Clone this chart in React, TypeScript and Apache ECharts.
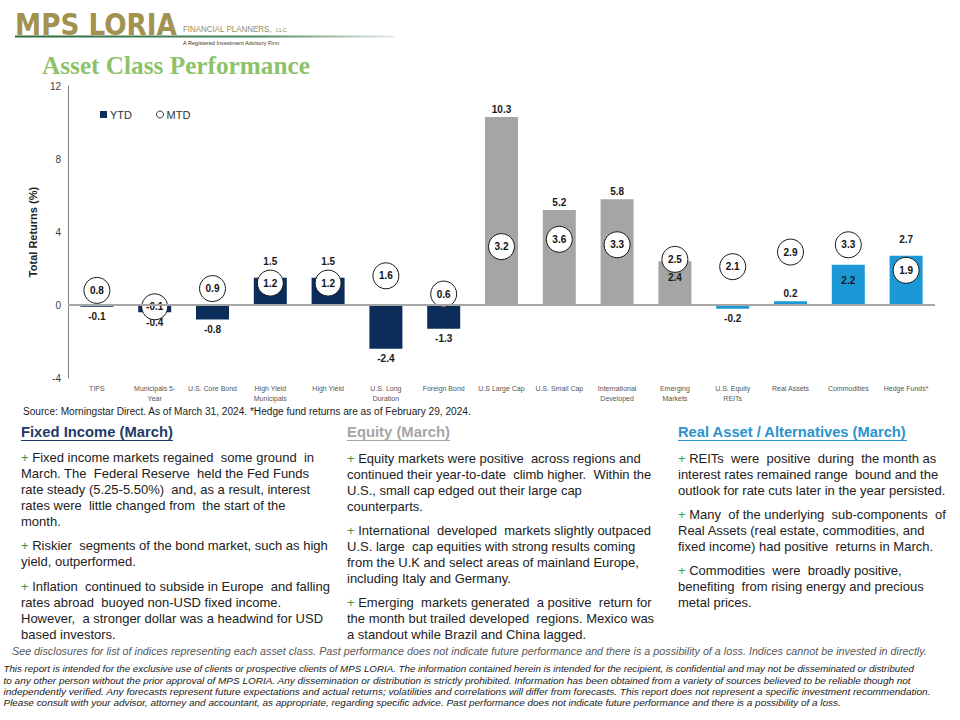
import React, { useEffect, useRef } from "react";
import * as echarts from "echarts";

// ---------- data ----------
const categories = [
  "TIPS",
  "Municipals 5-\nYear",
  "U.S. Core Bond",
  "High Yield\nMunicipals",
  "High Yield",
  "U.S. Long\nDuration",
  "Foreign Bond",
  "U.S Large Cap",
  "U.S. Small Cap",
  "International\nDeveloped",
  "Emerging\nMarkets",
  "U.S. Equity\nREITs",
  "Real Assets",
  "Commodities",
  "Hedge Funds*",
];
const assetGroup = [
  "fixed", "fixed", "fixed", "fixed", "fixed", "fixed", "fixed",
  "equity", "equity", "equity", "equity",
  "real", "real", "real", "real",
];
const ytdValues = [-0.1, -0.4, -0.8, 1.5, 1.5, -2.4, -1.3, 10.3, 5.2, 5.8, 2.4, -0.2, 0.2, 2.2, 2.7];
const mtdValues = [0.8, -0.1, 0.9, 1.2, 1.2, 1.6, 0.6, 3.2, 3.6, 3.3, 2.5, 2.1, 2.9, 3.3, 1.9];
const yMin = -4;
const yMax = 12;
const yInterval = 4;

// ---------- texts ----------
const sourceText =
  "Source: Morningstar Direct. As of March 31, 2024. *Hedge fund returns are as of February 29, 2024.";
const fixedHeading = "Fixed Income (March)";
const equityHeading = "Equity (March)";
const realHeading = "Real Asset / Alternatives (March)";
const fixedParas = [
  [
    "Fixed income markets regained  some ground  in",
    "March. The  Federal Reserve  held the Fed Funds",
    "rate steady (5.25-5.50%)  and, as a result, interest",
    "rates were  little changed from  the start of the",
    "month.",
  ],
  ["Riskier  segments of the bond market, such as high", "yield, outperformed."],
  [
    "Inflation  continued to subside in Europe  and falling",
    "rates abroad  buoyed non-USD fixed income.",
    "However,  a stronger dollar was a headwind for USD",
    "based investors.",
  ],
];
const equityParas = [
  [
    "Equity markets were positive  across regions and",
    "continued their year-to-date  climb higher.  Within the",
    "U.S., small cap edged out their large cap",
    "counterparts.",
  ],
  [
    "International  developed  markets slightly outpaced",
    "U.S. large  cap equities with strong results coming",
    "from the U.K and select areas of mainland Europe,",
    "including Italy and Germany.",
  ],
  [
    "Emerging  markets generated  a positive  return for",
    "the month but trailed developed  regions. Mexico was",
    "a standout while Brazil and China lagged.",
  ],
];
const realParas = [
  [
    "REITs  were  positive  during  the month as",
    "interest rates remained range  bound and the",
    "outlook for rate cuts later in the year persisted.",
  ],
  [
    "Many  of the underlying  sub-components  of",
    "Real Assets (real estate, commodities, and",
    "fixed income) had positive  returns in March.",
  ],
  [
    "Commodities  were  broadly positive,",
    "benefiting  from rising energy and precious",
    "metal prices.",
  ],
];
const seeDisclosures =
  "See disclosures for list of indices representing each asset class. Past performance does not indicate future performance and there is a possibility of a loss. Indices cannot be invested in directly.";
const disclaimerLines = [
  "This report is intended for the exclusive use of clients or prospective clients of MPS LORIA. The information contained herein is intended for the recipient, is confidential and may not be disseminated or distributed",
  "to any other person without the prior approval of MPS LORIA. Any dissemination or distribution is strictly prohibited. Information has been obtained from a variety of sources believed to be reliable though not",
  "independently verified. Any forecasts represent future expectations and actual returns; volatilities and correlations will differ from forecasts. This report does not represent a specific investment recommendation.",
  "Please consult with your advisor, attorney and accountant, as appropriate, regarding specific advice. Past performance does not indicate future performance and there is a possibility of a loss.",
];
// visible prefix of each footer line that ends at x=480 in the reference
const footerPrefixes = [
  "See disclosures for list of indices representing each asset class. Past performance does not indica",
  "This report is intended for the exclusive use of clients or prospective clients of MPS LORIA. The information co",
  "to any other person without the prior approval of MPS LORIA. Any dissemination or distribution is strictly pro",
  "independently verified. Any forecasts represent future expectations and actual returns; volatilities and correl",
  "Please consult with your advisor, attorney and accountant, as appropriate, regarding specific advice. Past pe",
];

const COLORS: Record<string, string> = {
  fixed: "#0c2c5a",
  equity: "#a5a5a5",
  real: "#1b98d5",
};
const SANS = '"Liberation Sans", Arial, sans-serif';

export default function App() {
  const ref = useRef<HTMLDivElement>(null);

  useEffect(() => {
    if (!ref.current) return;
    const chart = echarts.init(ref.current, undefined, { renderer: "svg" });

    const ctx = document.createElement("canvas").getContext("2d")!;
    const mw = (text: string, font: string) => {
      ctx.font = font;
      return ctx.measureText(text).width;
    };
    const T = (text: string, x: number, y: number, font: string, fill: string, scaleX = 1) => ({
      type: "text",
      x,
      y,
      scaleX,
      silent: true,
      style: { text, font, fill, align: "left", verticalAlign: "middle" },
    });
    const fitted = (text: string, x: number, y: number, font: string, fill: string, endX: number) => {
      const w = mw(text, font);
      return T(text, x, y, font, fill, (endX - x) / w);
    };

    const graphics: any[] = [];

    // logo
    const logoFont = `bold 30px "DejaVu Sans", sans-serif`;
    graphics.push(fitted("MPS LORIA", 15, 24.5, logoFont, "#a39150", 177));
    graphics.push({
      type: "rect",
      silent: true,
      shape: { x: 15, y: 35.5, width: 380, height: 2 },
      style: {
        fill: new echarts.graphic.LinearGradient(0, 0, 1, 0, [
          { offset: 0, color: "#2d6a3e" },
          { offset: 0.65, color: "#4f8a5e" },
          { offset: 1, color: "#e8ece8" },
        ]),
      },
    });
    graphics.push(fitted("FINANCIAL PLANNERS,", 183, 29, `9px ${SANS}`, "#9a8b5e", 272));
    graphics.push(fitted("LLC", 276, 30, `6px ${SANS}`, "#9a8b5e", 287));
    graphics.push(fitted("A Registered Investment Advisory Firm", 183, 42.5, `6px ${SANS}`, "#333333", 280));

    // title
    graphics.push(
      fitted("Asset Class Performance", 42, 66, `bold 25px "Liberation Serif", "Times New Roman", serif`, "#8dc26a", 310)
    );

    // source
    graphics.push(fitted(sourceText, 23, 412, `10px ${SANS}`, "#222222", 472));

    // headings
    const headFont = `bold 14.5px ${SANS}`;
    const headings: [string, number, number, string][] = [
      [fixedHeading, 21, 173, "#1f3a68"],
      [equityHeading, 347, 450, "#a6a6a6"],
      [realHeading, 678, 907, "#2a93cf"],
    ];
    headings.forEach(([t, x, end, c]) => {
      graphics.push(fitted(t, x, 432, headFont, c, end));
      graphics.push({
        type: "rect",
        silent: true,
        shape: { x, y: 440, width: end - x, height: 1 },
        style: { fill: c },
      });
    });

    // paragraphs
    const bodyFont = `13px ${SANS}`;
    const plusW = mw("+ ", bodyFont);
    const addParas = (paras: string[][], x: number, y0: number, gap: number) => {
      let y = y0;
      paras.forEach((lines) => {
        lines.forEach((line, li) => {
          if (li === 0) {
            graphics.push(T("+", x, y, bodyFont, "#3a9a4a"));
            graphics.push(T(line, x + plusW, y, bodyFont, "#222222"));
          } else {
            graphics.push(T(line, x, y, bodyFont, "#222222"));
          }
          y += 16;
        });
        y += gap - 16;
      });
    };
    addParas(fixedParas, 21, 457, 24.5);
    addParas(equityParas, 347, 458, 24);
    addParas(realParas, 678, 458, 24);

    // footer
    const seeFont = `italic 10px ${SANS}`;
    const discFont = `italic 9.5px ${SANS}`;
    const seeScale = (480 - 12) / mw(footerPrefixes[0], seeFont);
    graphics.push(T(seeDisclosures, 12, 652, seeFont, "#595959", seeScale));
    const discY = [669, 680.5, 691.5, 702.5];
    disclaimerLines.forEach((line, i) => {
      const s = (480 - 3.5) / mw(footerPrefixes[i + 1], discFont);
      graphics.push(T(line, 3.5, discY[i], discFont, "#1a1a1a", s));
    });

    // ---------- chart ----------
    const barData = ytdValues.map((v, i) => {
      const m = mtdValues[i];
      let position = "top";
      let distance = 3;
      if (v < 0) {
        position = "bottom";
        distance = 5;
      } else if (m >= v && m - v < 1.5) {
        position = "insideTop";
        distance = 11;
      } else if (m < v && v - m < 1.5) {
        position = "top";
        distance = 11;
      }
      return {
        value: v,
        itemStyle: { color: COLORS[assetGroup[i]] },
        label: { position, distance },
      };
    });

    chart.setOption({
      animation: false,
      backgroundColor: "#ffffff",
      textStyle: { fontFamily: SANS },
      grid: { left: 68, right: 25, top: 86, bottom: 342, containLabel: false },
      legend: {
        left: 100,
        top: 109,
        itemWidth: 7,
        itemHeight: 7,
        itemGap: 24,
        padding: 0,
        textStyle: { fontSize: 11, color: "#333333", padding: [0, 0, 0, -2] },
        data: [
          { name: "YTD", icon: "rect" },
          {
            name: "MTD",
            icon: "circle",
            itemStyle: { color: "#ffffff", borderColor: "#333333", borderWidth: 1 },
          },
        ],
      },
      xAxis: {
        type: "category",
        data: categories,
        position: "bottom",
        axisLine: { show: false },
        axisTick: { show: false },
        axisLabel: {
          interval: 0,
          fontSize: 7,
          color: "#555555",
          lineHeight: 10,
          margin: 5,
        },
      },
      yAxis: {
        type: "value",
        min: yMin,
        max: yMax,
        interval: yInterval,
        name: "Total Returns (%)",
        nameLocation: "middle",
        nameGap: 30,
        nameTextStyle: { fontWeight: "bold", fontSize: 11, color: "#222222" },
        axisLine: { show: true, lineStyle: { color: "#808080", width: 1 } },
        axisTick: { show: false },
        splitLine: { show: false },
        axisLabel: { fontSize: 10, color: "#404040", margin: 7 },
      },
      series: [
        {
          name: "YTD",
          type: "bar",
          barWidth: 33,
          itemStyle: { color: COLORS.fixed },
          label: {
            show: true,
            fontSize: 10,
            fontWeight: "bold",
            color: "#1a1a1a",
            formatter: (p: any) => Number(p.value).toFixed(1),
          },
          data: barData,
          z: 2,
          markLine: {
            silent: true,
            symbol: ["none", "none"],
            label: { show: false },
            lineStyle: { color: "#a6a6a6", width: 2, type: "solid" },
            data: [{ yAxis: 0 }],
          },
        },
        {
          name: "MTD",
          type: "scatter",
          symbol: "circle",
          symbolSize: 26,
          z: 4,
          itemStyle: { color: "#ffffff", borderColor: "#1a1a1a", borderWidth: 1, opacity: 1 },
          label: {
            show: true,
            position: "inside",
            fontSize: 10,
            fontWeight: "bold",
            color: "#111111",
            formatter: (p: any) => Number(p.value).toFixed(1),
          },
          data: mtdValues,
        },
      ],
      graphic: graphics,
    });

    return () => chart.dispose();
  }, []);

  return (
    <div
      ref={ref}
      style={{ position: "absolute", left: 0, top: 0, width: 960, height: 720, background: "#fff" }}
    />
  );
}
